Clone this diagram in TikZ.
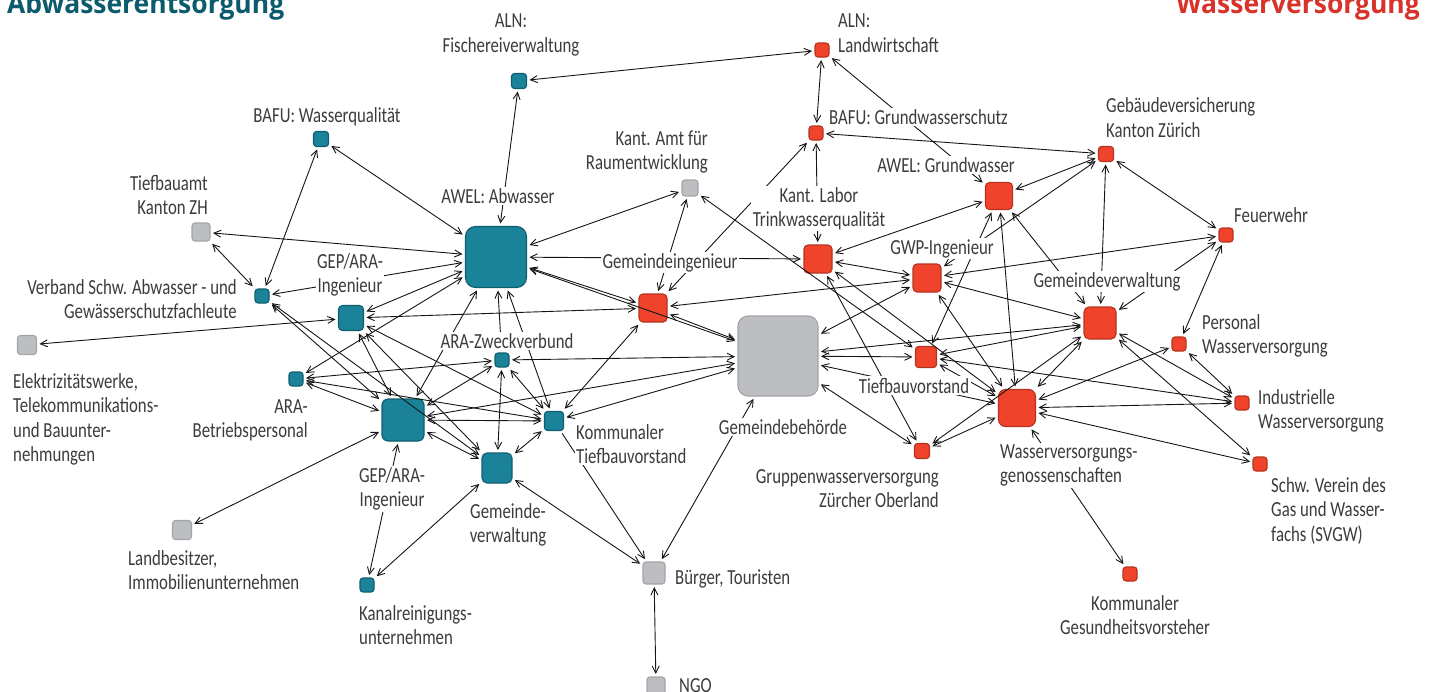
\documentclass[tikz,border=0pt]{standalone}
\usepackage{fontspec}
\setmainfont{Carlito}[FakeStretch=0.78]
\newfontfamily\ttlfont{Open Sans}[FakeStretch=0.945]
\usetikzlibrary{arrows.meta}
\definecolor{tealf}{HTML}{1A8299}
\definecolor{teald}{HTML}{0F5E6E}
\definecolor{redf}{HTML}{EF442B}
\definecolor{redd}{HTML}{B5321F}
\definecolor{grayf}{HTML}{BDBEC1}
\definecolor{grayd}{HTML}{A3A4A7}
\definecolor{txt}{HTML}{3C3C3C}
\definecolor{linec}{HTML}{151515}
\definecolor{tteal}{HTML}{0B5B6D}
\definecolor{tred}{HTML}{D8322A}
\tikzset{
  box/.style={minimum size=#1, inner sep=0pt, outer sep=2pt, line width=1.1pt, rounded corners=3pt},
  tb/.style={box=#1, fill=tealf, draw=teald},
  rb/.style={box=#1, fill=redf, draw=redd},
  gb/.style={box=#1, fill=grayf, draw=grayd},
  lab/.style={font=\fontsize{21.5}{24.5}\selectfont, text=txt, fill=white, inner sep=1.5pt},
  ed/.style={draw=linec, line width=0.9pt, {Straight Barb[length=7pt,width=7pt]}-{Straight Barb[length=7pt,width=7pt]}, shorten >=1pt, shorten <=1pt},
  edone/.style={draw=linec, line width=0.9pt, -{Straight Barb[length=7pt,width=7pt]}, shorten >=1pt, shorten <=1pt},
  ttl/.style={font=\ttlfont\bfseries\fontsize{28}{30}\selectfont, inner sep=0pt}
}
\begin{document}
\begin{tikzpicture}[x=1pt,y=-1pt]
\useasboundingbox (0,0) rectangle (1437,691);
% titles
\node[ttl, text=tteal, anchor=base west] (t1) at (7,13) {Abwasserentsorgung};
\node[ttl, text=tred, anchor=base east] (t2) at (1420,13) {Wasserversorgung};
% teal boxes
\node[tb=15] (fisch) at (519,81) {};
\node[tb=15] (bafuT) at (321,139) {};
\node[tb=61, rounded corners=10pt] (awel) at (496,257) {};
\node[tb=14] (verb) at (262,296) {};
\node[tb=25, rounded corners=4pt] (gepA) at (351,318) {};
\node[tb=14] (arazw) at (502,360) {};
\node[tb=14] (arab) at (296,379) {};
\node[tb=42, rounded corners=6pt] (gepB) at (403,420) {};
\node[tb=19] (kt) at (554,421) {};
\node[tb=30, rounded corners=5pt] (tgv) at (497,468) {};
\node[tb=14] (kanal) at (367,585) {};
% gray boxes
\node[gb=18] (tief) at (201,232) {};
\node[gb=19] (elek) at (27,345) {};
\node[gb=16] (raum) at (690,188) {};
\node[gb=80, rounded corners=10pt] (gbh) at (778,356) {};
\node[gb=19] (land) at (182,530) {};
\node[gb=22] (buerger) at (654,573) {};
\node[gb=18] (ngo) at (656,686) {};
% red boxes
\node[rb=14] (lw) at (822,50) {};
\node[rb=14] (bafuR) at (816,133) {};
\node[rb=15] (gebv) at (1106,154) {};
\node[rb=27, rounded corners=4pt] (awelgw) at (999,196) {};
\node[rb=14] (feuer) at (1226,235) {};
\node[rb=28, rounded corners=4pt] (labor) at (818,259) {};
\node[rb=28, rounded corners=4pt] (gi) at (653,308) {};
\node[rb=28, rounded corners=4pt] (gwp) at (927,278) {};
\node[rb=32, rounded corners=5pt] (rgv) at (1100,323) {};
\node[rb=14] (pers) at (1179,344) {};
\node[rb=21] (tbv) at (926,357) {};
\node[rb=37, rounded corners=7pt] (wvg) at (1017,408) {};
\node[rb=14] (ind) at (1242,403) {};
\node[rb=15] (gzo) at (922,451) {};
\node[rb=14] (svgw) at (1260,464) {};
\node[rb=14] (ges) at (1130,574) {};
% connectors
\foreach \a/\b in {fisch/lw, fisch/awel, bafuT/awel, bafuT/verb, tief/awel, tief/verb,
  verb/awel, verb/gepB, verb/tgv, gepA/awel, gepA/elek, gepA/gi, gepA/gepB, gepA/tgv, gepA/kt,
  arab/awel, arab/arazw, arab/kt, arab/gepB, arazw/gepB, arazw/tgv, arazw/kt, arazw/gbh,
  gepB/awel, gepB/kt, gepB/tgv, gepB/gbh, gepB/land, gepB/kanal,
  kt/awel, kt/gi, kt/gbh, kt/tgv, tgv/kanal, tgv/buerger, buerger/ngo, gbh/buerger,
  awel/raum, awel/labor, awel/gi, awel/gbh, raum/gi, raum/tbv, gi/bafuR, gi/gwp, gi/gbh,
  labor/bafuR, bafuR/lw, lw/awelgw, bafuR/gebv, awelgw/gebv, gwp/gebv, gebv/feuer, gebv/rgv,
  awelgw/labor, awelgw/tbv, awelgw/wvg, awelgw/rgv, labor/gwp, labor/wvg, labor/gzo,
  gwp/feuer, gwp/rgv, gwp/gbh, gwp/wvg, feuer/rgv, feuer/pers,
  rgv/gbh, rgv/tbv, rgv/wvg, rgv/gzo, rgv/ind, rgv/svgw, pers/ind, pers/wvg,
  tbv/gbh, tbv/ind, tbv/wvg, wvg/gbh, wvg/ind, wvg/svgw, wvg/gzo, wvg/ges, gzo/gbh}
  \draw[ed] (\a) -- (\b);
\draw[edone] (arazw) -- (awel);
\draw[edone] (kt) -- (buerger);
% labels (base = baseline of the last line)
\node[lab, anchor=base, align=center] (Lfisch) at (511,52) {ALN:\\Fischereiverwaltung};
\node[lab, anchor=base west, align=left] (Llw) at (836.5,52) {ALN:\\Landwirtschaft};
\node[lab, anchor=base] (LbafuT) at (327,122) {BAFU: Wasserqualität};
\node[lab, anchor=base west] (LbafuR) at (827.5,124) {BAFU: Grundwasserschutz};
\node[lab, anchor=base west, align=left] (Lgebv) at (1104.5,137) {Gebäudeversicherung\\Kanton Zürich};
\node[lab, anchor=base east, align=right] (Lraum) at (709.5,169.5) {Kant. Amt für\\Raumentwicklung};
\node[lab, anchor=base east, align=right] (Ltief) at (209.5,214.5) {Tiefbauamt\\Kanton ZH};
\node[lab, anchor=base] (Lawel) at (498,203) {AWEL: Abwasser};
\node[lab, anchor=base] (Lawelgw) at (946,172) {AWEL: Grundwasser};
\node[lab, anchor=base, align=center] (Llabor) at (819,226.5) {Kant. Labor\\Trinkwasserqualität};
\node[lab, anchor=base west] (Lfeuer) at (1232.5,222) {Feuerwehr};
\node[lab, anchor=base] (Lgi) at (670,268) {Gemeindeingenieur};
\node[lab, anchor=base] (Lgwp) at (942,254) {GWP-Ingenieur};
\node[lab, anchor=base, align=center] (LgepA) at (350,292.5) {GEP/ARA-\\Ingenieur};
\node[lab, anchor=base east, align=right] (Lverb) at (238.5,318.5) {Verband Schw. Abwasser - und\\Gewässerschutzfachleute};
\node[lab, anchor=base west, align=left] (Lelek) at (11.5,461.5) {Elektrizitätswerke,\\Telekommunikations-\\und Bauunter-\\nehmungen};
\node[lab, anchor=base] (Larazw) at (507,348) {ARA-Zweckverbund};
\node[lab, anchor=base east, align=right] (Larab) at (309.5,437.5) {ARA-\\Betriebspersonal};
\node[lab, anchor=base, align=center] (LgepB) at (392,506.5) {GEP/ARA-\\Ingenieur};
\node[lab, anchor=base west, align=left] (Lkt) at (574.5,463.5) {Kommunaler\\Tiefbauvorstand};
\node[lab, anchor=base, align=center] (Ltgv) at (508,542.5) {Gemeinde-\\verwaltung};
\node[lab, anchor=base] (Lgbh) at (783,434) {Gemeindebehörde};
\node[lab, anchor=base] (Ltbv) at (914,393) {Tiefbauvorstand};
\node[lab, anchor=base] (Lrgv) at (1107,287) {Gemeindeverwaltung};
\node[lab, anchor=base west, align=left] (Lpers) at (1200.5,353.5) {Personal\\Wasserversorgung};
\node[lab, anchor=base west, align=left] (Lind) at (1256.5,428.5) {Industrielle\\Wasserversorgung};
\node[lab, anchor=base west, align=left] (Lwvg) at (998.5,482.5) {Wasserversorgungs-\\genossenschaften};
\node[lab, anchor=base east, align=right] (Lgzo) at (940.5,507.5) {Gruppenwasserversorgung\\Zürcher Oberland};
\node[lab, anchor=base west, align=left] (Lsvgw) at (1269.5,541) {Schw. Verein des\\Gas und Wasser-\\fachs (SVGW)};
\node[lab, anchor=base, align=center] (Lges) at (1135,634.5) {Kommunaler\\Gesundheitsvorsteher};
\node[lab, anchor=base west, align=left] (Lland) at (126.5,589.5) {Landbesitzer,\\Immobilienunternehmen};
\node[lab, anchor=base west, align=left] (Lkanal) at (357.5,644.5) {Kanalreinigungs-\\unternehmen};
\node[lab, anchor=base west] (Lbuerger) at (673.5,584) {Bürger, Touristen};
\node[lab, anchor=base west] (Lngo) at (677.5,692) {NGO};
\end{tikzpicture}
\end{document}
